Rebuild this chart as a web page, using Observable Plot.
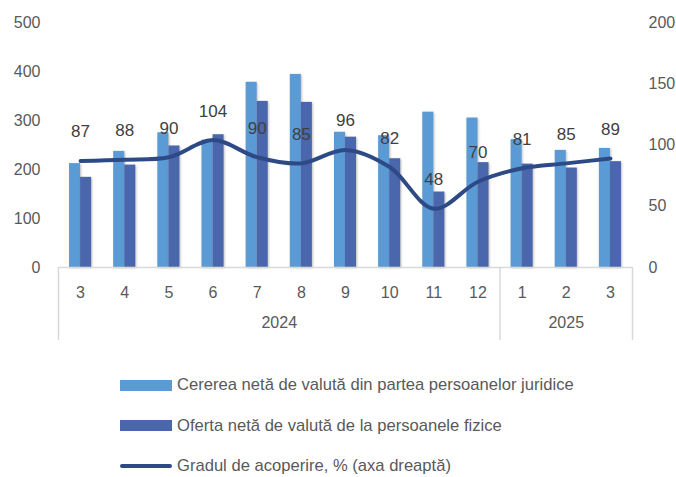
<!DOCTYPE html>
<html><head><meta charset="utf-8">
<script src="https://cdn.jsdelivr.net/npm/d3@7"></script>
<script src="https://cdn.jsdelivr.net/npm/@observablehq/plot@0.6"></script>
<style>
body{margin:0;background:#fff;font-family:"Liberation Sans",Arial,sans-serif;}
#chart{width:676px;height:350px;}
#legend{margin-top:15px;}
.row{display:flex;align-items:center;height:40.5px;padding-left:120px;font-size:16.6px;color:#595959;}
.sw{width:52px;height:11px;margin-right:5px;}
.ln{width:52px;height:4px;border-radius:2px;margin-right:5px;background:#2E4A86;}
#chart svg g[aria-label="rect"] rect{filter:drop-shadow(1px 1px 1px rgba(0,0,0,0.25));}
</style></head><body><div id="chart"></div><div id="legend"></div>
<script>
const months = ["3","4","5","6","7","8","9","10","11","12","1","2","3"];
const years = ["2024","2024","2024","2024","2024","2024","2024","2024","2024","2024","2025","2025","2025"];
const demand = [212,237,275,260,378,394,276,269,317,305,261,239,243];
const supply = [184,209,248,271,339,337,266,222,154,214,211,203,216];
const coverage = [87,88,90,104,90,85,96,82,48,70,81,85,89];
const leftTicks = [0,100,200,300,400,500];
const rightTicks = [0,50,100,150,200];
const seriesNames = ["Cererea netă de valută din partea persoanelor juridice","Oferta netă de valută de la persoanele fizice","Gradul de acoperire, % (axa dreaptă)"];
const colors = ["#5B9BD5","#4A66AC","#2E4A86"];

const rows = months.map((m,i)=>({i, m, year: years[i], demand: demand[i], supply: supply[i], cov: coverage[i]}));
const ratio = 500/200;
const groups = d3.groups(rows, d=>d.year).map(([year, g])=>({year, mid: d3.mean(g, d=>d.i), lo: d3.min(g,d=>d.i)-0.5, hi: d3.max(g,d=>d.i)+0.5}));
const bounds = Array.from(new Set(groups.flatMap(g=>[g.lo,g.hi])));
const H=350, mTop=22, mBot=83;
const belowUnits = -(73/(H-mTop-mBot))*500;

const chart = Plot.plot({
  width:676, height:H, marginTop:mTop, marginBottom:mBot, marginLeft:58, marginRight:44,
  style:{fontFamily:'"Liberation Sans",Arial,sans-serif', fontSize:"16px", color:"#595959", background:"#fff"},
  x:{domain:[-0.5, months.length-0.5], axis:null},
  y:{domain:[0,500], axis:null},
  marks:[
    Plot.rectY(rows,{x1:d=>d.i-0.25, x2:d=>d.i, y:"demand", fill:colors[0]}),
    Plot.rectY(rows,{x1:d=>d.i, x2:d=>d.i+0.25, y:"supply", fill:colors[1]}),
    Plot.ruleY([0],{stroke:"#D9D9D9", strokeWidth:1.5}),
    Plot.ruleX(bounds,{x:d=>d, y1:0, y2:belowUnits, stroke:"#D9D9D9", strokeWidth:1.5}),
    Plot.line(rows,{x:"i", y:d=>d.cov*ratio, stroke:colors[2], strokeWidth:4, curve:"catmull-rom"}),
    Plot.text(rows,{x:"i", y:d=>d.cov*ratio, text:d=>String(d.cov), dy:-29, fontSize:17, fill:"#404040"}),
    Plot.text(rows,{x:"i", text:"m", frameAnchor:"bottom", dy:30, fontSize:16, fill:"#595959"}),
    Plot.text(groups,{x:"mid", text:"year", frameAnchor:"bottom", dy:60, fontSize:16, fill:"#595959"}),
    Plot.axisY(leftTicks,{anchor:"left", tickSize:0, tickPadding:18, fontSize:16}),
    Plot.axisY(rightTicks.map(v=>v*ratio),{anchor:"right", tickSize:0, tickPadding:16, fontSize:16, tickFormat:d=>String(Math.round(d/ratio))})
  ]
});
document.getElementById("chart").appendChild(chart);

const lg = document.getElementById("legend");
seriesNames.forEach((name,k)=>{
  const r = document.createElement("div"); r.className="row";
  const s = document.createElement("div");
  if(k<2){ s.className="sw"; s.style.background=colors[k]; } else { s.className="ln"; }
  const t = document.createElement("span"); t.textContent=name;
  r.appendChild(s); r.appendChild(t); lg.appendChild(r);
});
</script></body></html>
